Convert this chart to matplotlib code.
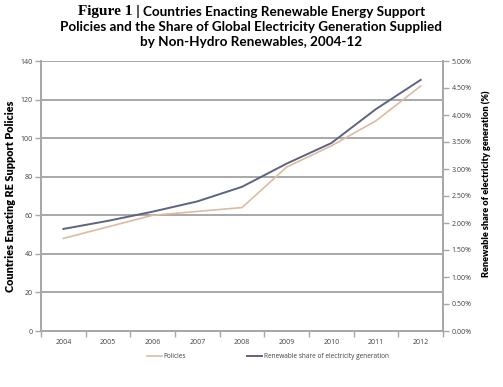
import matplotlib

matplotlib.use("Agg")
import matplotlib.pyplot as plt
from matplotlib.ticker import FuncFormatter

years = ["2004", "2005", "2006", "2007", "2008", "2009", "2010", "2011", "2012"]
policies = [48, 54, 60, 62, 64, 85, 96, 109, 127]
renewable_share = [1.89, 2.04, 2.21, 2.40, 2.67, 3.10, 3.48, 4.11, 4.65]  # percent

TAN = "#dcbba0"
SLATE = "#5d6480"
GRID = "#a8a8a8"
TICK_TXT = "#404040"
SANS = ["Lato", "DejaVu Sans"]
TICK_FONT = ["Open Sans", "DejaVu Sans"]

fig = plt.figure(figsize=(5.03, 3.87), dpi=100)
ax = fig.add_axes([41 / 503, 1 - 331 / 387, 402 / 503, 270 / 387])
ax2 = ax.twinx()

x = list(range(len(years)))
ax.plot(x, policies, color=TAN, lw=1.2, label="Policies")
ax2.plot(x, renewable_share, color=SLATE, lw=1.4, label="Renewable share of electricity generation")

ax.set_xlim(-0.5, len(years) - 0.5)
ax.set_ylim(0, 140)
ax.set_yticks(range(0, 141, 20))
ax2.set_ylim(0, 5)
ax2.set_yticks([i * 0.5 for i in range(11)])
ax2.yaxis.set_major_formatter(FuncFormatter(lambda v, p: f"{v:.2f}%"))

ax.set_xticks(x)
ax.set_xticklabels(years)
ax.set_xticks([i - 0.5 for i in range(len(years) + 1)], minor=True)
ax.tick_params(axis="x", which="major", length=0, pad=6)
ax.tick_params(axis="x", which="minor", length=4, color=GRID, width=1)

ax.grid(axis="y", color=GRID, lw=1.4)
ax.set_axisbelow(True)

for a in (ax, ax2):
    a.spines["top"].set_visible(False)
    for side in ("left", "right", "bottom"):
        a.spines[side].set_color(GRID)
        a.spines[side].set_linewidth(1.4)
    a.tick_params(axis="y", length=4, color=GRID, width=1, labelsize=5, labelcolor=TICK_TXT, pad=2)
    for lab in a.get_yticklabels():
        lab.set_family(TICK_FONT)
ax.tick_params(axis="x", labelsize=5, labelcolor=TICK_TXT)
for lab in ax.get_xticklabels():
    lab.set_family(TICK_FONT)

ax.set_ylabel("Countries Enacting RE Support Policies", family=SANS, fontweight="heavy",
              fontsize=7.8, labelpad=3)
ax2.set_ylabel("Renewable share of electricity generation (%)", family=SANS, fontweight="heavy",
               fontsize=6.6, labelpad=5)
ax2.yaxis.set_label_coords(1.095, 0.545)

handles = ax.get_lines()[:1] + ax2.get_lines()[:1]
leg = fig.legend(handles, [h.get_label() for h in handles], loc="center",
                 bbox_to_anchor=(268 / 503, 1 - 357 / 387), ncol=2, frameon=False,
                 prop={"family": TICK_FONT, "size": 4.7}, handlelength=2.2, columnspacing=9.4,
                 handletextpad=0.3)
for t in leg.get_texts():
    t.set_color(TICK_TXT)

# title: serif "Figure 1" followed by sans bold text, centred as one line
title_lines = [
    "Countries Enacting Renewable Energy Support",
    "Policies and the Share of Global Electricity Generation Supplied",
    "by Non-Hydro Renewables, 2004-12",
]
TITLE_SIZE = 9.7
line_y = [1 - 11 / 387, 1 - 27 / 387, 1 - 42 / 387]
t_fig = fig.text(0, line_y[0], "Figure 1", family=["Liberation Serif", "DejaVu Serif"],
                 fontweight="bold", fontsize=11, va="center", ha="left")
t_rest = fig.text(0, line_y[0], " | " + title_lines[0], family=SANS, fontweight="bold",
                  fontsize=TITLE_SIZE, va="center", ha="left")
fig.canvas.draw()
r = fig.canvas.get_renderer()
w1 = t_fig.get_window_extent(r).width / fig.bbox.width
w2 = t_rest.get_window_extent(r).width / fig.bbox.width
x0 = 0.5 - (w1 + w2) / 2
t_fig.set_x(x0)
t_rest.set_x(x0 + w1)
for txt, yy in zip(title_lines[1:], line_y[1:]):
    fig.text(0.5, yy, txt, family=SANS, fontweight="bold", fontsize=TITLE_SIZE, va="center", ha="center")

fig.savefig("out.png", dpi=100)
